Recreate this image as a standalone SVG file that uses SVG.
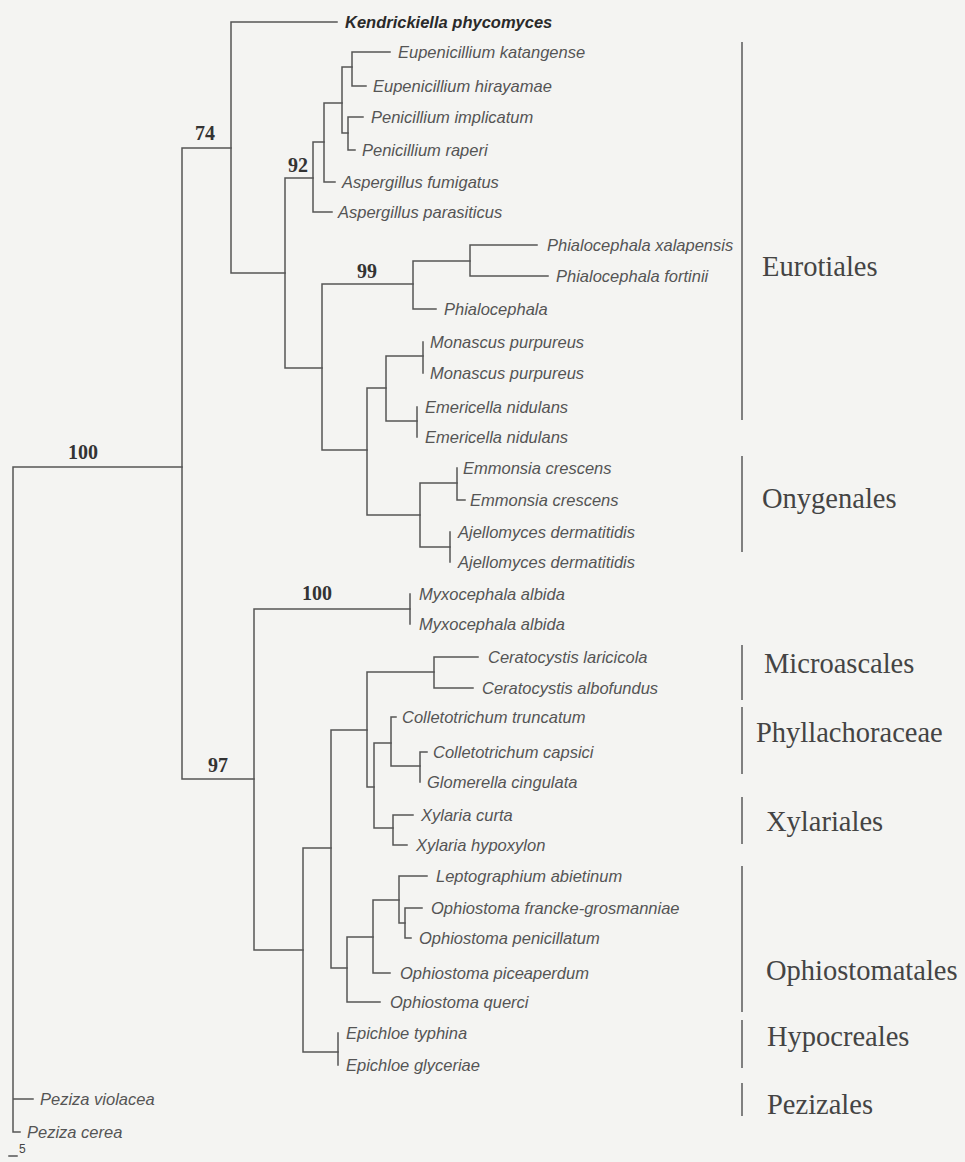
<svg xmlns="http://www.w3.org/2000/svg" width="965" height="1162" viewBox="0 0 965 1162">
<style>
.bg{fill:#f4f4f2}
.br{fill:none;stroke:#555;stroke-width:1.5;stroke-linecap:square}
.lf{font-family:"Liberation Sans",Arial,sans-serif;font-style:italic;font-size:16.5px;fill:#555}
.lfb{font-family:"Liberation Sans",Arial,sans-serif;font-style:italic;font-weight:bold;font-size:16.5px;fill:#2a2a2a}
.bs{font-family:"Liberation Serif","Times New Roman",serif;font-weight:bold;font-size:20px;fill:#333}
.cl{font-family:"Liberation Serif","Times New Roman",serif;font-size:28.5px;fill:#444}
.bar{stroke:#808080;stroke-width:2;fill:none}
.sc{font-family:"Liberation Sans",Arial,sans-serif;font-size:12px;fill:#444}
</style>
<rect class="bg" x="0" y="0" width="965" height="1162"/>
<g id="connectors">
<path class="br" d="M13,467 V1132 H20 M13,1099 H33 M13,467 H182"/>
<path class="br" d="M182,148 V779 M182,148 H231 M182,779 H254"/>
<path class="br" d="M231,22 V273 M231,22 H337 M231,273 H285"/>
<path class="br" d="M285,178 V368 M285,178 H313 M285,368 H322"/>
<path class="br" d="M313,142 V212 M313,142 H324 M313,212 H332"/>
<path class="br" d="M324,103 V182 M324,103 H342 M324,182 H335"/>
<path class="br" d="M342,67 V133 M342,67 H352 M342,133 H348"/>
<path class="br" d="M352,52 V86 M352,52 H390 M352,86 H366"/>
<path class="br" d="M348,117 V150 M348,117 H363 M348,150 H355"/>
<path class="br" d="M322,284 V450 M322,284 H413 M322,450 H367"/>
<path class="br" d="M413,261 V309 M413,261 H470 M413,309 H436"/>
<path class="br" d="M470,245 V276 M470,245 H537 M470,276 H548"/>
<path class="br" d="M367,388 V515 M367,388 H386 M367,515 H420"/>
<path class="br" d="M386,356 V421 M386,356 H423 M386,421 H417"/>
<path class="br" d="M423,342 V373 M417,407 V437"/>
<path class="br" d="M420,483 V547 M420,483 H457 M420,547 H450"/>
<path class="br" d="M457,468 V500 H465 M450,532 V562"/>
<path class="br" d="M254,609 V950 M254,609 H410 M254,950 H303"/>
<path class="br" d="M410,594 V624"/>
<path class="br" d="M303,848 V1052 M303,848 H331 M303,1052 H338"/>
<path class="br" d="M338,1033 V1065"/>
<path class="br" d="M331,730 V968 M331,730 H367 M331,968 H347"/>
<path class="br" d="M367,672 V787 M367,672 H434 M367,787 H374"/>
<path class="br" d="M434,657 V688 M434,657 H478 M434,688 H473"/>
<path class="br" d="M374,743 V828 M374,743 H391 M374,828 H393"/>
<path class="br" d="M391,717 V766 M391,717 H396 M391,766 H420"/>
<path class="br" d="M420,752 V782 M420,752 H427"/>
<path class="br" d="M393,815 V845 M393,815 H413 M393,845 H407"/>
<path class="br" d="M347,937 V1002 M347,937 H373 M347,1002 H380"/>
<path class="br" d="M373,900 V973 M373,900 H399 M373,973 H390"/>
<path class="br" d="M399,876 V923 M399,876 H427 M399,923 H405"/>
<path class="br" d="M405,908 V938 M405,908 H422 M405,938 H411"/>
</g>
<g id="bootstrap">
<text class="bs" x="195" y="140">74</text>
<text class="bs" x="288" y="172">92</text>
<text class="bs" x="357" y="278">99</text>
<text class="bs" x="68" y="459">100</text>
<text class="bs" x="302" y="600">100</text>
<text class="bs" x="208" y="772">97</text>
</g>
<g id="leaf-kendrickiella"><text class="lfb" x="345" y="28">Kendrickiella phycomyces</text></g>
<g id="leaf-eup-katangense"><text class="lf" x="398" y="58">Eupenicillium katangense</text></g>
<g id="leaf-eup-hirayamae"><text class="lf" x="373" y="92">Eupenicillium hirayamae</text></g>
<g id="leaf-pen-implicatum"><text class="lf" x="371" y="123">Penicillium implicatum</text></g>
<g id="leaf-pen-raperi"><text class="lf" x="362" y="156">Penicillium raperi</text></g>
<g id="leaf-asp-fumigatus"><text class="lf" x="342" y="188">Aspergillus fumigatus</text></g>
<g id="leaf-asp-parasiticus"><text class="lf" x="338" y="218">Aspergillus parasiticus</text></g>
<g id="leaf-phi-xalapensis"><text class="lf" x="547" y="251">Phialocephala xalapensis</text></g>
<g id="leaf-phi-fortinii"><text class="lf" x="556" y="282">Phialocephala fortinii</text></g>
<g id="leaf-phialocephala"><text class="lf" x="444" y="315">Phialocephala</text></g>
<g id="leaf-monascus-1"><text class="lf" x="430" y="348">Monascus purpureus</text></g>
<g id="leaf-monascus-2"><text class="lf" x="430" y="379">Monascus purpureus</text></g>
<g id="leaf-emericella-1"><text class="lf" x="425" y="413">Emericella nidulans</text></g>
<g id="leaf-emericella-2"><text class="lf" x="425" y="443">Emericella nidulans</text></g>
<g id="leaf-emmonsia-1"><text class="lf" x="463" y="474">Emmonsia crescens</text></g>
<g id="leaf-emmonsia-2"><text class="lf" x="470" y="506">Emmonsia crescens</text></g>
<g id="leaf-ajellomyces-1"><text class="lf" x="458" y="538">Ajellomyces dermatitidis</text></g>
<g id="leaf-ajellomyces-2"><text class="lf" x="458" y="568">Ajellomyces dermatitidis</text></g>
<g id="leaf-myxocephala-1"><text class="lf" x="419" y="600">Myxocephala albida</text></g>
<g id="leaf-myxocephala-2"><text class="lf" x="419" y="630">Myxocephala albida</text></g>
<g id="leaf-cer-laricicola"><text class="lf" x="488" y="663">Ceratocystis laricicola</text></g>
<g id="leaf-cer-albofundus"><text class="lf" x="482" y="694">Ceratocystis albofundus</text></g>
<g id="leaf-col-truncatum"><text class="lf" x="402" y="723">Colletotrichum truncatum</text></g>
<g id="leaf-col-capsici"><text class="lf" x="433" y="758">Colletotrichum capsici</text></g>
<g id="leaf-glomerella"><text class="lf" x="427" y="788">Glomerella cingulata</text></g>
<g id="leaf-xyl-curta"><text class="lf" x="421" y="821">Xylaria curta</text></g>
<g id="leaf-xyl-hypoxylon"><text class="lf" x="416" y="851">Xylaria hypoxylon</text></g>
<g id="leaf-leptographium"><text class="lf" x="436" y="882">Leptographium abietinum</text></g>
<g id="leaf-oph-francke"><text class="lf" x="431" y="914">Ophiostoma francke-grosmanniae</text></g>
<g id="leaf-oph-penicillatum"><text class="lf" x="419" y="944">Ophiostoma penicillatum</text></g>
<g id="leaf-oph-piceaperdum"><text class="lf" x="400" y="979">Ophiostoma piceaperdum</text></g>
<g id="leaf-oph-querci"><text class="lf" x="390" y="1008">Ophiostoma querci</text></g>
<g id="leaf-epi-typhina"><text class="lf" x="346" y="1039">Epichloe typhina</text></g>
<g id="leaf-epi-glyceriae"><text class="lf" x="346" y="1071">Epichloe glyceriae</text></g>
<g id="leaf-pez-violacea"><text class="lf" x="40" y="1105">Peziza violacea</text></g>
<g id="leaf-pez-cerea"><text class="lf" x="27" y="1138">Peziza cerea</text></g>
<g id="clade-eurotiales"><line class="bar" x1="742" y1="42" x2="742" y2="420"/><text class="cl" x="762" y="276">Eurotiales</text></g>
<g id="clade-onygenales"><line class="bar" x1="742" y1="456" x2="742" y2="552"/><text class="cl" x="762" y="508">Onygenales</text></g>
<g id="clade-microascales"><line class="bar" x1="742" y1="645" x2="742" y2="700"/><text class="cl" x="764" y="673">Microascales</text></g>
<g id="clade-phyllachoraceae"><line class="bar" x1="742" y1="707" x2="742" y2="774"/><text class="cl" x="756" y="742">Phyllachoraceae</text></g>
<g id="clade-xylariales"><line class="bar" x1="742" y1="797" x2="742" y2="844"/><text class="cl" x="766" y="831">Xylariales</text></g>
<g id="clade-ophiostomatales"><line class="bar" x1="742" y1="866" x2="742" y2="1012"/><text class="cl" x="766" y="980">Ophiostomatales</text></g>
<g id="clade-hypocreales"><line class="bar" x1="742" y1="1020" x2="742" y2="1068"/><text class="cl" x="767" y="1046">Hypocreales</text></g>
<g id="clade-pezizales"><line class="bar" x1="742" y1="1083" x2="742" y2="1116"/><text class="cl" x="767" y="1114">Pezizales</text></g>
<g id="scale"><line class="br" x1="9" y1="1156" x2="17" y2="1156"/><text class="sc" x="19" y="1153">5</text></g>
</svg>
